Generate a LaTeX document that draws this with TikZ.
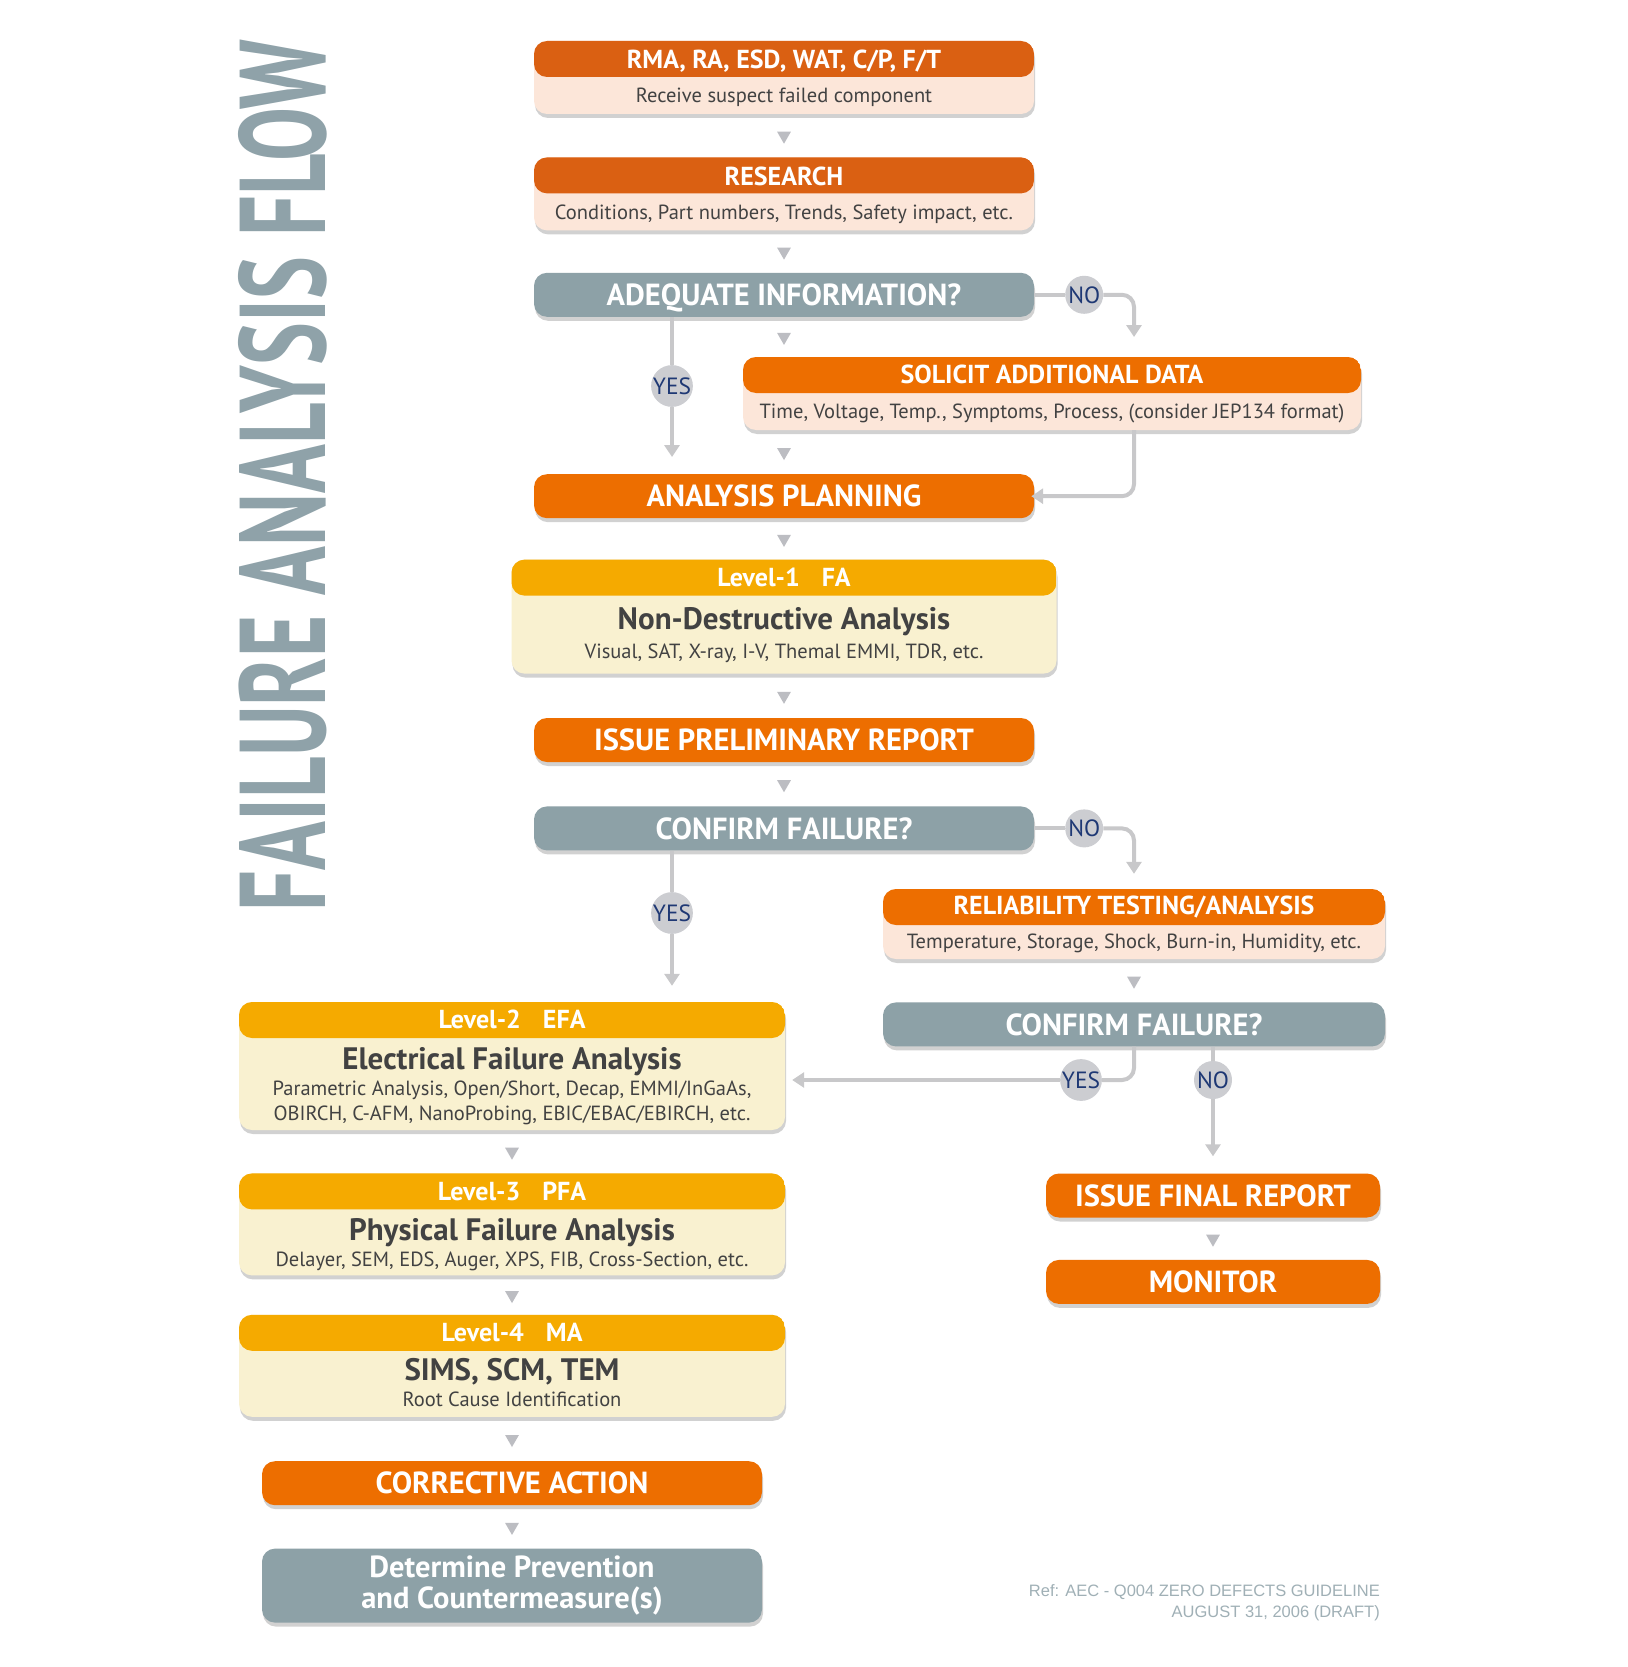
\documentclass[tikz,border=0pt]{standalone}
\usepackage{fontspec}
\setmainfont{PT Sans}
\newfontfamily\reffont{Liberation Sans}
\usepackage{graphicx}
\usepackage{tikz}
\usetikzlibrary{arrows.meta,positioning,calc,shapes.geometric,shadows}
\usepackage{xcolor}
\definecolor{faorgA}{RGB}{218,96,18}
\definecolor{faorg}{RGB}{237,110,0}
\definecolor{fapeach}{RGB}{252,230,217}
\definecolor{faamber}{RGB}{245,170,0}
\definecolor{facream}{RGB}{249,241,208}
\definecolor{faslate}{RGB}{141,161,167}
\definecolor{faline}{RGB}{200,200,202}
\definecolor{fatip}{RGB}{188,189,194}
\definecolor{fabub}{RGB}{204,205,209}
\definecolor{fanavy}{RGB}{30,56,116}
\definecolor{fatext}{RGB}{66,66,66}
\definecolor{fatitle}{RGB}{143,162,169}
\tikzset{
  bx/.style={rectangle,rounded corners=13pt,minimum width=500pt,minimum height=44pt,
             inner sep=0pt,text height=21.3pt,text depth=0pt,
             drop shadow={shadow xshift=1pt,shadow yshift=-4pt,opacity=.18,fill=black}},
  bxO/.style={bx,fill=faorg,text=white,font=\fontsize{30.5}{36}\selectfont\bfseries},
  bxS/.style={bxO,fill=faslate},
  bxT/.style 2 args={bx,fill=#2,
      path picture={\fill[#1] (path picture bounding box.north west)
        rectangle ([yshift=-36pt]path picture bounding box.north east);}},
  hd/.style={inner sep=0pt,text height=18.2pt,text depth=0pt,text=white,
             font=\fontsize{26}{30}\selectfont\bfseries},
  sub/.style={hd,text=fatext,text height=21.7pt,font=\fontsize{31}{36}\selectfont\bfseries},
  txt/.style={hd,text=fatext,text height=14.3pt,font=\fontsize{20.5}{25}\selectfont},
  tri/.style={regular polygon,regular polygon sides=3,shape border rotate=180,
              fill=fatip,minimum size=16pt,inner sep=0pt},
  ln/.style={faline,line width=4pt,rounded corners=12pt},
  flow/.style={ln,-{Triangle[width=15pt,length=12pt]}},
  bub/.style={circle,fill=fabub,minimum size=38pt,inner sep=0pt,text=fanavy,
              font=\fontsize{23.5}{26}\selectfont},
}

\begin{document}
\begin{tikzpicture}[x=1pt,y=-1pt]
  \fill[white] (0,0) rectangle (1627,1667);
  \useasboundingbox (0,0) rectangle (1627,1667);

  \node[rotate=90,text=fatitle,inner sep=0pt] (ttl) at (282.5,475.5)
    {\resizebox{871pt}{87pt}{\bfseries FAILURE ANALYSIS FLOW}};

  \node[bxT={faorgA}{fapeach},minimum height=73pt] (rma) at (784,77.5) {};
  \node[hd] (rmaH) at ([yshift=-18.5pt]rma.north) {RMA, RA, ESD, WAT, C/P, F/T};
  \node[txt] (rmaB) at ([yshift=-55pt]rma.north) {Receive suspect failed component};

  \node[bxT={faorgA}{fapeach},minimum height=73pt,below=43pt of rma] (res) {};
  \node[hd] (resH) at ([yshift=-19pt]res.north) {RESEARCH};
  \node[txt] (resB) at ([yshift=-55.5pt]res.north) {Conditions, Part numbers, Trends, Safety impact, etc.};

  \node[bxS,below=42pt of res] (adq) {ADEQUATE INFORMATION?};

  \node[bxT={faorg}{fapeach},minimum width=618pt,minimum height=73pt] (sol) at (1052,393.5) {};
  \node[hd] (solH) at ([yshift=-18pt]sol.north) {SOLICIT ADDITIONAL DATA};
  \node[txt] (solB) at ([yshift=-54.5pt]sol.north) {Time, Voltage, Temp., Symptoms, Process, (consider JEP134 format)};

  \node[bxO,below=157pt of adq] (plan) {ANALYSIS PLANNING};

  \node[bxT={faamber}{facream},minimum width=545pt,minimum height=114pt,below=41pt of plan] (lv1) {};
  \node[hd] (lv1H) at ([yshift=-18pt]lv1.north) {Level-1\hspace{22pt}FA};
  \node[sub] (lv1S) at ([yshift=-59pt]lv1.north) {Non-Destructive Analysis};
  \node[txt] (lv1B) at ([yshift=-92pt]lv1.north) {Visual, SAT, X-ray, I-V, Themal EMMI, TDR, etc.};

  \node[bxO,below=44pt of lv1] (prelim) {ISSUE PRELIMINARY REPORT};
  \node[bxS,below=44pt of prelim] (cf1) {CONFIRM FAILURE?};

  \node[bxT={faorg}{fapeach},minimum width=502pt,minimum height=70pt] (rel) at (1134,924) {};
  \node[hd] (relH) at ([yshift=-17pt]rel.north) {RELIABILITY TESTING/ANALYSIS};
  \node[txt] (relB) at ([yshift=-52.5pt]rel.north) {Temperature, Storage, Shock, Burn-in, Humidity, etc.};

  \node[bxS,minimum width=502pt,below=43pt of rel] (cf2) {CONFIRM FAILURE?};

  \node[bxT={faamber}{facream},minimum width=546pt,minimum height=128pt] (lv2) at (512,1066) {};
  \node[hd] (lv2H) at ([yshift=-18pt]lv2.north) {Level-2\hspace{22pt}EFA};
  \node[sub] (lv2S) at ([yshift=-57pt]lv2.north) {Electrical Failure Analysis};
  \node[txt] (lv2B) at ([yshift=-87pt]lv2.north) {Parametric Analysis, Open/Short, Decap, EMMI/InGaAs,};
  \node[txt] (lv2C) at ([yshift=-112pt]lv2.north) {OBIRCH, C-AFM, NanoProbing, EBIC/EBAC/EBIRCH, etc.};

  \node[bxT={faamber}{facream},minimum width=546pt,minimum height=102pt,below=43pt of lv2] (lv3) {};
  \node[hd] (lv3H) at ([yshift=-18pt]lv3.north) {Level-3\hspace{22pt}PFA};
  \node[sub] (lv3S) at ([yshift=-56pt]lv3.north) {Physical Failure Analysis};
  \node[txt] (lv3B) at ([yshift=-86pt]lv3.north) {Delayer, SEM, EDS, Auger, XPS, FIB, Cross-Section, etc.};

  \node[bxT={faamber}{facream},minimum width=546pt,minimum height=102pt,below=39pt of lv3] (lv4) {};
  \node[hd] (lv4H) at ([yshift=-18pt]lv4.north) {Level-4\hspace{22pt}MA};
  \node[sub] (lv4S) at ([yshift=-55pt]lv4.north) {SIMS, SCM, TEM};
  \node[txt] (lv4B) at ([yshift=-85pt]lv4.north) {Root Cause Identification};

  \node[bxO,below=44pt of lv4] (ca) {CORRECTIVE ACTION};
  \node[bxS,minimum height=74pt,text height=,text depth=,align=center,
        font=\fontsize{30.5}{31.5}\selectfont\bfseries,below=43pt of ca] (det)
    {Determine Prevention\\and Countermeasure(s)};

  \node[bxO,minimum width=334pt] (fin) at (1213,1195.5) {ISSUE FINAL REPORT};
  \node[bxO,minimum width=334pt,below=42pt of fin] (mon) {MONITOR};

  \foreach \a/\b in {rma/res,res/adq,plan/lv1,lv1/prelim,prelim/cf1,rel/cf2,
                     lv2/lv3,lv3/lv4,lv4/ca,ca/det,fin/mon}
    \path (\a.south) -- node[tri] (t-\a) {} (\b.north);
  \path (adq.south) -- node[tri] (t-adq) {} (adq.south |- sol.north);
  \path (plan.north |- sol.south) -- node[tri] (t-sol) {} (plan.north);

  \node[bub] (no1) at ([xshift=50pt]adq.east) {NO};
  \coordinate (no1e) at (1134,337);
  \draw[ln] (adq.east) -- (no1);
  \draw[flow] (no1) -| (no1e);
  \draw[flow,shorten >=-3pt] (sol.south -| no1e) |- (plan.east);

  \node[bub] (yes1) at (672,386) {YES};
  \coordinate (yes1e) at (672,457);
  \draw[ln] (adq.south -| yes1) -- (yes1);
  \draw[flow] (yes1) -- (yes1e);

  \node[bub] (no2) at ([xshift=50pt]cf1.east) {NO};
  \draw[ln] (cf1.east) -- (no2);
  \draw[flow,shorten >=15pt] (no2) -| (rel.north);

  \node[bub] (yes2) at (672,913) {YES};
  \draw[ln] (cf1.south -| yes2) -- (yes2);
  \draw[flow,shorten >=16pt] (yes2) -- (yes2 |- lv2.north);

  \node[bub] (yes3) at (1081,1080) {YES};
  \draw[ln] (cf2.south) |- (yes3);
  \draw[flow,shorten >=7pt] (yes3) -- (yes3 -| lv2.east);

  \node[bub] (no3) at (fin.north |- yes3) {NO};
  \draw[ln] (cf2.south -| no3) -- (no3);
  \draw[flow,shorten >=17pt] (no3) -- (fin.north);

  \node[anchor=north east,align=right,text=fatitle!85,inner sep=0pt,
        font=\reffont\fontsize{16.5}{21}\selectfont] (ref) at (1380,1584)
    {Ref: AEC - Q004 ZERO DEFECTS GUIDELINE\\AUGUST 31, 2006 (DRAFT)};
\end{tikzpicture}
\end{document}
